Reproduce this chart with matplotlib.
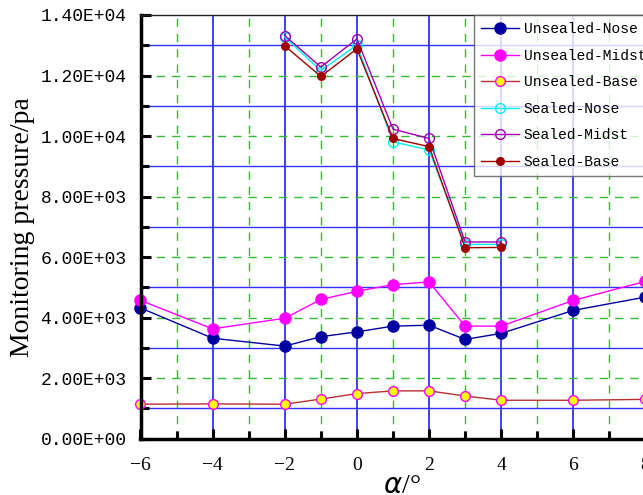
import numpy as np
import matplotlib.pyplot as plt
from matplotlib.ticker import MultipleLocator, FuncFormatter

# --- Dados ---
alpha_unsealed = [-6, -4, -2, -1, 0, 1, 2, 3, 4, 6, 8]
unsealed_nose = [4320, 3320, 3060, 3370, 3530, 3720, 3750, 3280, 3480, 4240, 4680]
unsealed_midst = [4570, 3630, 3980, 4600, 4870, 5090, 5180, 3720, 3720, 4570, 5200]
unsealed_base = [1140, 1150, 1140, 1310, 1490, 1580, 1580, 1410, 1270, 1270, 1300]

alpha_sealed = [-2, -1, 0, 1, 2, 3, 4]
sealed_nose = [13270, 12160, 13010, 9810, 9540, 6420, 6420]
sealed_midst = [13320, 12280, 13210, 10230, 9920, 6500, 6500]
sealed_base = [12980, 11970, 12880, 9920, 9650, 6310, 6320]

mono = 'Liberation Mono'
serif = 'Liberation Serif'

fig = plt.figure(figsize=(6.43, 4.95), dpi=100)
ax = fig.add_axes([140.5 / 643, 1 - 438.7 / 495, 523 / 643, 423.7 / 495])

# Grade: azul sólido nos pares (x) e ímpares (y em milhares), verde tracejado no resto
for x in range(-4, 9, 2):
    ax.axvline(x, color='#3030ff', lw=1.3, zorder=0)
for x in range(-5, 9, 2):
    ax.axvline(x, color='#33bb33', lw=1.0, ls=(0, (6, 5)), zorder=0)
for y in range(1000, 14000, 2000):
    ax.axhline(y, color='#3030ff', lw=1.0, zorder=0)
for y in range(2000, 14000, 2000):
    ax.axhline(y, color='#33bb33', lw=1.0, ls=(0, (6, 5)), zorder=0)

ax.plot(alpha_unsealed, unsealed_nose, '-o', color='#0000a0', ms=8, lw=1.0,
        label='Unsealed-Nose', clip_on=False)
ax.plot(alpha_unsealed, unsealed_midst, '-o', color='#ff00ff', ms=8, lw=1.0,
        label='Unsealed-Midst', clip_on=False)
ax.plot(alpha_unsealed, unsealed_base, '-o', color='#b83030', mfc='#ffff00',
        mec='#ff00ff', ms=7, lw=1.0, label='Unsealed-Base', clip_on=False)
ax.plot(alpha_sealed, sealed_nose, '-o', color='#00f0f0', mfc='none', ms=7,
        lw=1.0, label='Sealed-Nose')
ax.plot(alpha_sealed, sealed_midst, '-o', color='#a000b0', mfc='none', ms=7,
        lw=1.0, label='Sealed-Midst')
ax.plot(alpha_sealed, sealed_base, '-o', color='#a00000', ms=5.5, lw=1.0,
        label='Sealed-Base')

ax.set_xlim(-6, 8.5)
ax.set_ylim(0, 14000)
ax.xaxis.set_major_locator(MultipleLocator(2))
ax.xaxis.set_minor_locator(MultipleLocator(1))
ax.yaxis.set_major_locator(MultipleLocator(2000))
ax.yaxis.set_minor_locator(MultipleLocator(1000))
ax.yaxis.set_major_formatter(FuncFormatter(lambda v, p: f'{v:.2E}'))
ax.xaxis.set_major_formatter(FuncFormatter(lambda v, p: f'{int(v)}'.replace('-', '\u2212')))

ax.tick_params(which='both', direction='in', width=2.2, color='black')
ax.tick_params(which='major', length=7, pad=10)
ax.tick_params(which='minor', length=6)
ax.tick_params(axis='y', labelsize=13)
ax.tick_params(axis='x', labelsize=14, pad=13)
for lbl in ax.get_yticklabels():
    lbl.set_family(mono)
for lbl in ax.get_xticklabels():
    lbl.set_family(serif)

ax.spines['left'].set_linewidth(2.5)
ax.spines['bottom'].set_linewidth(2.5)
ax.spines['top'].set_linewidth(1.0)
ax.spines['top'].set_color('#222222')
ax.spines['right'].set_visible(False)

ax.set_ylabel('Monitoring pressure/pa', fontsize=20, family=serif, labelpad=4)
ax.set_xlabel(r'$\alpha$/°', fontsize=20, family=serif, labelpad=0)

leg = fig.legend(loc='upper left', bbox_to_anchor=(474 / 643, 1 - 15 / 495),
                 borderaxespad=0, prop={'family': mono, 'size': 10.5},
                 frameon=True, fancybox=False, edgecolor='#555555',
                 handlelength=2.6, labelspacing=0.86, borderpad=0.5,
                 handletextpad=0.3)
leg.get_frame().set_linewidth(1.0)

fig.savefig('out.png', dpi=100)
